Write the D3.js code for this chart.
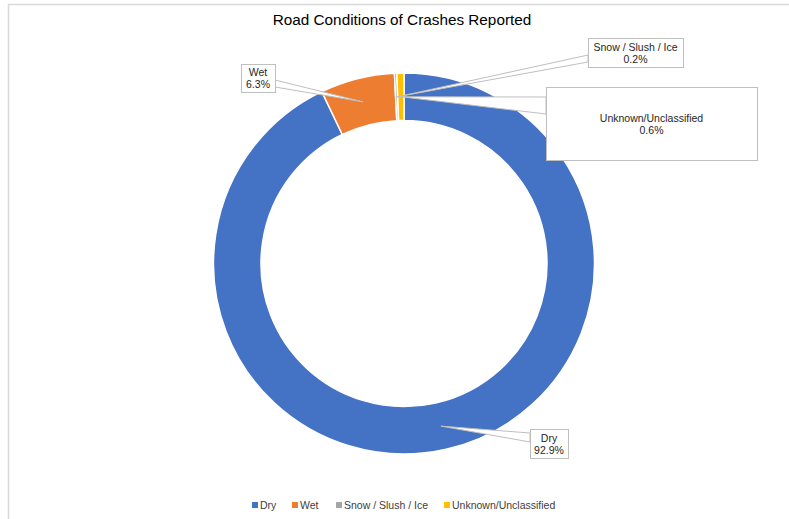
<!DOCTYPE html>
<html>
<head>
<meta charset="utf-8">
<script src="https://cdn.jsdelivr.net/npm/d3@7"></script>
<style>
  html, body { margin: 0; padding: 0; background: #fff; }
  svg { display: block; font-family: "Liberation Sans", Arial, sans-serif; }
</style>
</head>
<body>
<script>
const categories = ["Dry", "Wet", "Snow / Slush / Ice", "Unknown/Unclassified"];
const values = [92.9, 6.3, 0.2, 0.6];
const valueLabels = ["92.9%", "6.3%", "0.2%", "0.6%"];
const colors = ["#4472C4", "#ED7D31", "#A5A5A5", "#FFC000"];
const title = "Road Conditions of Crashes Reported";

// label callout boxes
const labelBoxes = [
  {x: 530, y: 429, w: 38, h: 29, b0: 433, b1: 442, side: "left"},
  {x: 241, y: 64, w: 34, h: 28, b0: 80, b1: 87, side: "right"},
  {x: 588, y: 38, w: 95, h: 29, b0: 55, b1: 62, side: "left"},
  {x: 546, y: 87, w: 211, h: 73, b0: 97, b1: 114, side: "left"}
];

const W = 789, H = 519;
const svg = d3.select("body").append("svg").attr("width", W).attr("height", H);

svg.append("rect").attr("x", 8.5).attr("y", 4.5).attr("width", 900).attr("height", 700)
  .attr("fill", "#fff").attr("stroke", "#d9d9d9").attr("stroke-width", 1.5);

svg.append("text").attr("x", 402).attr("y", 25).attr("text-anchor", "middle")
  .attr("font-size", 15.3).attr("fill", "#000").text(title);

const cx = 404, cy = 263.5, R = 190.5, r = 143;
const data = categories.map((c, i) => ({name: c, value: values[i], label: valueLabels[i], color: colors[i]}));
const pie = d3.pie().value(d => d.value).sort(null);
const arcs = pie(data);
const arc = d3.arc().innerRadius(r).outerRadius(R);

const g = svg.append("g").attr("transform", `translate(${cx},${cy})`);
g.selectAll("path.slice").data(arcs).join("path").attr("class", "slice")
  .attr("d", arc).attr("fill", d => d.data.color)
  .attr("stroke", "#fff").attr("stroke-width", 1.5);

// callouts
const lg = svg.append("g");
arcs.forEach((a, i) => {
  const b = labelBoxes[i];
  const c = arc.centroid(a);
  const tip = [cx + c[0], cy + c[1]];
  const bx = b.side === "left" ? b.x : b.x + b.w;
  lg.append("path")
    .attr("d", `M${bx},${b.b0}L${tip[0]},${tip[1]}L${bx},${b.b1}Z`)
    .attr("fill", "#fff").attr("stroke", "#bfbfbf").attr("stroke-width", 1);
  lg.append("rect").attr("x", b.x + 0.5).attr("y", b.y + 0.5).attr("width", b.w).attr("height", b.h)
    .attr("fill", "#fff").attr("stroke", "#bfbfbf").attr("stroke-width", 1);
  const mx = b.x + b.w / 2, my = b.y + b.h / 2;
  lg.append("text").attr("x", mx).attr("y", my - 2).attr("text-anchor", "middle")
    .attr("font-size", 10.5).attr("fill", "#262626").text(a.data.name);
  lg.append("text").attr("x", mx).attr("y", my + 10).attr("text-anchor", "middle")
    .attr("font-size", 10.5).attr("fill", "#262626").text(a.data.label);
});

// legend
const legendX = [252, 292, 336, 444];
const leg = svg.append("g");
data.forEach((d, i) => {
  leg.append("rect").attr("x", legendX[i]).attr("y", 502).attr("width", 6).attr("height", 6).attr("fill", d.color);
  leg.append("text").attr("x", legendX[i] + 8).attr("y", 509).attr("font-size", 10.5).attr("fill", "#404040").text(d.name);
});
</script>
</body>
</html>
